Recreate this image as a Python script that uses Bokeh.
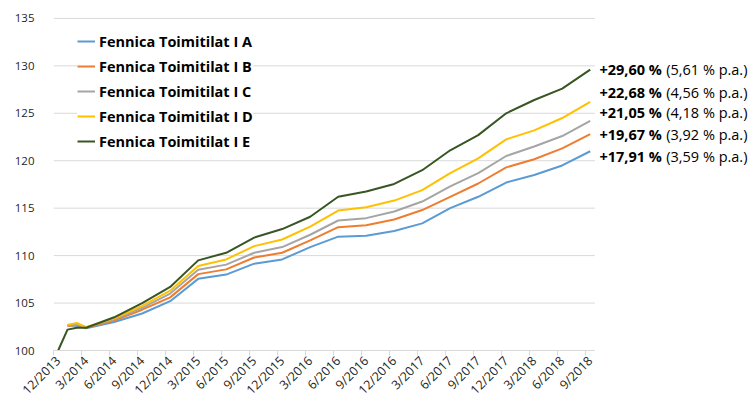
from bokeh.plotting import figure
from bokeh.models import Range1d, FixedTicker, Legend, LegendItem, Label
from bokeh.embed import file_html
from bokeh.resources import INLINE
import math

# ---- data ----
quarter_labels = ["12/2013", "3/2014", "6/2014", "9/2014", "12/2014", "3/2015", "6/2015",
                  "9/2015", "12/2015", "3/2016", "6/2016", "9/2016", "12/2016", "3/2017",
                  "6/2017", "9/2017", "12/2017", "3/2018", "6/2018", "9/2018"]
# month index (0 = 12/2013) of every quarter label
quarter_months = [3 * i for i in range(len(quarter_labels))]

months_e = [0, 1, 2] + quarter_months[1:]
months_ad = [1, 2] + quarter_months[1:]

series_names = ["Fennica Toimitilat I A", "Fennica Toimitilat I B", "Fennica Toimitilat I C",
                "Fennica Toimitilat I D", "Fennica Toimitilat I E"]
values_a = [102.6, 102.6, 102.35, 103.0, 103.9, 105.2, 107.55, 108.0, 109.15, 109.6, 110.9,
            112.0, 112.1, 112.6, 113.4, 115.0, 116.2, 117.7, 118.5, 119.5, 121.0]
values_b = [102.6, 102.7, 102.4, 103.15, 104.3, 105.6, 108.05, 108.55, 109.8, 110.3, 111.6,
            113.0, 113.2, 113.8, 114.8, 116.2, 117.6, 119.3, 120.15, 121.3, 122.8]
values_c = [102.7, 102.75, 102.45, 103.3, 104.5, 106.0, 108.5, 109.05, 110.3, 110.9, 112.2,
            113.7, 113.95, 114.65, 115.7, 117.3, 118.7, 120.5, 121.5, 122.6, 124.2]
values_d = [102.7, 102.9, 102.45, 103.4, 104.7, 106.3, 108.9, 109.6, 111.0, 111.7, 113.05,
            114.75, 115.1, 115.8, 116.9, 118.7, 120.25, 122.25, 123.2, 124.5, 126.2]
values_e = [100.0, 102.2, 102.4, 102.4, 103.5, 105.0, 106.7, 109.5, 110.3, 111.9, 112.8,
            114.1, 116.2, 116.75, 117.55, 119.0, 121.1, 122.7, 125.0, 126.4, 127.6, 129.6]

total_returns = ["+29,60 %", "+22,68 %", "+21,05 %", "+19,67 %", "+17,91 %"]
annual_returns = ["(5,61 % p.a.)", "(4,56 % p.a.)", "(4,18 % p.a.)", "(3,92 % p.a.)", "(3,59 % p.a.)"]
y_ticks = [100, 105, 110, 115, 120, 125, 130, 135]

# ---- style / layout ----
colors = ["#5B9BD5", "#ED7D31", "#A5A5A5", "#FFC000", "#375623"]
FONT = "Open Sans"
TXT = "#262626"
GRID = "#D9D9D9"
annot_y = [129.6, 127.18, 125.04, 122.77, 120.49]
X_END = 57.5          # last category edge
annot_x_bold = 64.68  # right edge of bold part
annot_x_norm = 65.14  # left edge of normal part

p = figure(width=750, height=407, output_backend="svg", toolbar_location=None,
           x_range=Range1d(-0.5, 74.17), y_range=Range1d(100, 135.2),
           min_border_left=53, min_border_right=0, min_border_top=16, min_border_bottom=56)
p.outline_line_color = None
p.background_fill_color = "white"
p.border_fill_color = "white"

# horizontal gridlines limited to the category area
p.xgrid.grid_line_color = None
p.ygrid.grid_line_color = None
p.segment(x0=[-0.5] * len(y_ticks), x1=[X_END] * len(y_ticks), y0=y_ticks, y1=y_ticks,
          line_color=GRID, line_width=1, level="underlay")

xs = [months_ad, months_ad, months_ad, months_ad, months_e]
ys = [values_a, values_b, values_c, values_d, values_e]
renderers = []
for x, y, c in zip(xs, ys, colors):
    r = p.line(x, y, line_color=c, line_width=2)
    renderers.append(r)

# y axis
p.yaxis.ticker = FixedTicker(ticks=y_ticks, minor_ticks=[])
p.yaxis.axis_line_color = None
p.yaxis.major_tick_line_color = None
p.yaxis.minor_tick_line_color = None
p.yaxis.major_tick_out = 0
p.yaxis.major_label_standoff = 19
p.yaxis.major_label_text_font = FONT
p.yaxis.major_label_text_font_size = "11.5px"
p.yaxis.major_label_text_color = TXT

# x axis
p.xaxis.bounds = (-0.5, X_END)
p.xaxis.ticker = FixedTicker(ticks=quarter_months, minor_ticks=[m - 0.5 for m in quarter_months])
p.xaxis.major_label_overrides = {m: lab for m, lab in zip(quarter_months, quarter_labels)}
p.xaxis.axis_line_color = GRID
p.xaxis.major_tick_out = 0
p.xaxis.major_tick_in = 0
p.xaxis.major_tick_line_color = None
p.xaxis.minor_tick_out = 5
p.xaxis.minor_tick_in = 0
p.xaxis.minor_tick_line_color = GRID
p.xaxis.major_label_orientation = math.pi / 4
p.xaxis.major_label_standoff = 3
p.xaxis.major_label_text_font = FONT
p.xaxis.major_label_text_font_size = "12.5px"
p.xaxis.major_label_text_color = TXT

legend = Legend(items=[LegendItem(label=n, renderers=[r]) for n, r in zip(series_names, renderers)],
                location=(24, 199), padding=6, spacing=5, margin=0,
                glyph_width=18, glyph_height=20, label_height=20, label_standoff=4,
                label_text_font=FONT, label_text_font_style="bold", label_text_font_size="14.5px",
                label_text_color="#000000", background_fill_color="white", background_fill_alpha=1,
                border_line_color=None)
p.add_layout(legend)

for t, a, yv in zip(total_returns, annual_returns, annot_y):
    p.add_layout(Label(x=annot_x_bold, y=yv, text=t, text_align="right", text_baseline="middle",
                       text_font=FONT, text_font_style="bold", text_font_size="14.5px",
                       text_color="#000000"))
    p.add_layout(Label(x=annot_x_norm, y=yv, text=a, text_align="left", text_baseline="middle",
                       text_font=FONT, text_font_size="14.5px", text_color="#000000"))

open("out.html", "w").write(file_html(p, INLINE))
